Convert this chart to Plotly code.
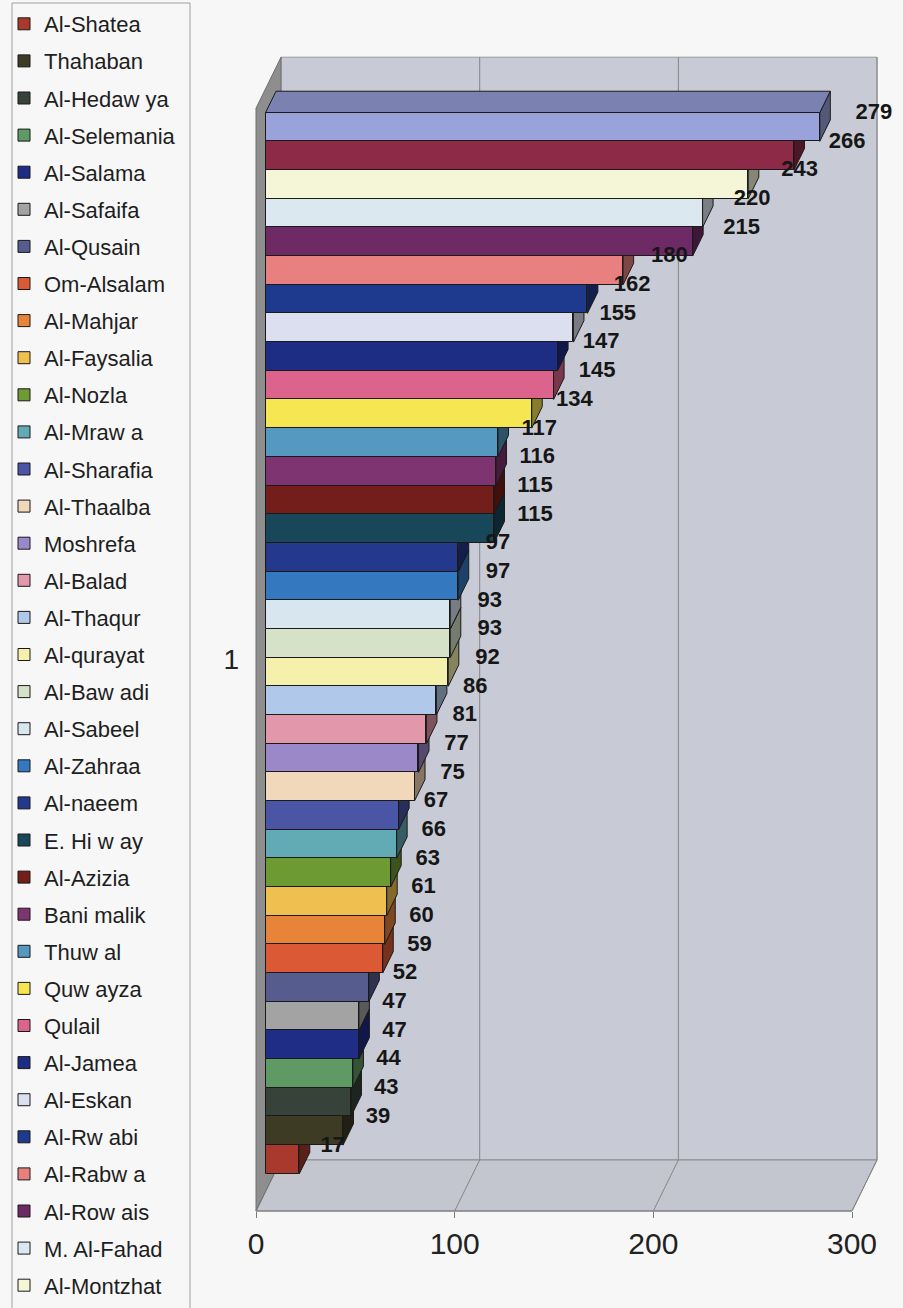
import plotly.graph_objects as go

# Counts per district, listed from the bottom bar to the top bar
VALUES = [17, 39, 43, 44, 47, 47, 52, 59, 60, 61, 63, 66, 67, 75, 77, 81, 86,
          92, 93, 93, 97, 97, 115, 115, 116, 117, 134, 145, 147, 155, 162, 180,
          215, 220, 243, 266, 279]

# Legend names in the same order; the last two rows fall below the page edge
DISTRICTS = ["Al-Shatea", "Thahaban", "Al-Hedaw ya", "Al-Selemania", "Al-Salama",
             "Al-Safaifa", "Al-Qusain", "Om-Alsalam", "Al-Mahjar", "Al-Faysalia",
             "Al-Nozla", "Al-Mraw a", "Al-Sharafia", "Al-Thaalba", "Moshrefa",
             "Al-Balad", "Al-Thaqur", "Al-qurayat", "Al-Baw adi", "Al-Sabeel",
             "Al-Zahraa", "Al-naeem", "E. Hi w ay", "Al-Azizia", "Bani malik",
             "Thuw al", "Quw ayza", "Qulail", "Al-Jamea", "Al-Eskan",
             "Al-Rw abi", "Al-Rabw a", "Al-Row ais", "M. Al-Fahad", "Al-Montzhat"]

BAR_COLORS = ["#a8392c", "#3d3b24", "#37423a", "#5f9a64", "#1f2d86", "#a3a3a3",
              "#565c8e", "#db5a35", "#e8843a", "#efc04f", "#6e9a34", "#62aab4",
              "#4a55a6", "#f2d8bb", "#9a88c8", "#e397aa", "#b0c8ea", "#f5f0ab",
              "#d6e2c8", "#d8e6ef", "#3478c0", "#24388c", "#18475a", "#731e1a",
              "#7d3470", "#5598c0", "#f5e652", "#dc648c", "#1e2d84", "#dcdff0",
              "#1e3a8e", "#e88080", "#6e2a64", "#dce8f0", "#f5f5d8", "#8c2a48",
              "#9aa2dc"]

CATEGORY_LABELS = ["1"]
VALUE_TICKS = [0, 100, 200, 300]

# ---- 3-D box geometry: x in value units, y in bar-height units ----
X_MAX = 300
DEPTH_X = 12.6          # how far the back plane shifts right (value units)
DEPTH_Y = 1.78          # how far the back plane shifts up (bar units)
BAR_Z0, BAR_Z1 = 0.38, 0.80   # front / back depth of the bars inside the box
CAT_LO, CAT_HI = 0.0, 38.45   # category extent on the front plane
BAR_START = 0.62              # gap below the lowest bar

# ---- page layout in pixels ----
W, H = 903, 1308
PLOT_LEFT = 240
ZERO_PX = 256
PX_PER_VAL = (852 - 256) / 300
FLOOR_PX = 1211
PX_PER_CAT = 28.68

x_lo = -(ZERO_PX - PLOT_LEFT) / PX_PER_VAL
x_hi = x_lo + (W - PLOT_LEFT) / PX_PER_VAL
y_lo = CAT_LO - (H - FLOOR_PX) / PX_PER_CAT
y_hi = CAT_LO + FLOOR_PX / PX_PER_CAT

PAGE = "#f7f7f7"
WALL = "#c8cbd5"
FLOOR = "#c3c6cf"
SIDE_WALL = "#8e8e8e"
GRID = "#858585"
EDGE = "#1a1a1a"
FONT = "Liberation Sans, Arial, sans-serif"


def shade(hex_color, f):
    r, g, b = (int(hex_color[k:k + 2], 16) for k in (1, 3, 5))
    return "#{:02x}{:02x}{:02x}".format(*(max(0, min(255, int(c * f))) for c in (r, g, b)))


def poly(points, close=True):
    return "M " + " L ".join(f"{x:.4f},{y:.4f}" for x, y in points) + (" Z" if close else "")


def depth(x, y, z):
    return (x + z * DEPTH_X, y + z * DEPTH_Y)


def paper_xy(px, py):
    return ((px - PLOT_LEFT) / (W - PLOT_LEFT), (H - py) / H)


shapes = []
# legend frame (open at the bottom, it runs past the page)
shapes.append(dict(type="path", layer="below", xref="paper", yref="paper",
                   path=poly([paper_xy(12, H + 20), paper_xy(12, 3),
                              paper_xy(190, 3), paper_xy(190, H + 20)], close=False),
                   line=dict(color="#a0a0a0", width=1)))
# back wall, floor and left wall of the box
shapes.append(dict(type="path", layer="below", xref="x", yref="y",
                   path=poly([depth(0, CAT_LO, 1), depth(X_MAX, CAT_LO, 1),
                              depth(X_MAX, CAT_HI, 1), depth(0, CAT_HI, 1)]),
                   fillcolor=WALL, line=dict(color="#9a9a9a", width=1)))
shapes.append(dict(type="path", layer="below", xref="x", yref="y",
                   path=poly([depth(0, CAT_LO, 0), depth(X_MAX, CAT_LO, 0),
                              depth(X_MAX, CAT_LO, 1), depth(0, CAT_LO, 1)]),
                   fillcolor=FLOOR, line=dict(color="#8a8a8a", width=1)))
shapes.append(dict(type="path", layer="below", xref="x", yref="y",
                   path=poly([depth(0, CAT_LO, 0), depth(0, CAT_LO, 1),
                              depth(0, CAT_HI, 1), depth(0, CAT_HI, 0)]),
                   fillcolor=SIDE_WALL, line=dict(color="#6e6e6e", width=1)))
# value gridlines across the floor and up the back wall
for v in VALUE_TICKS[1:]:
    fx0, fy0 = depth(v, CAT_LO, 0)
    fx1, fy1 = depth(v, CAT_LO, 1)
    wx1, wy1 = depth(v, CAT_HI, 1)
    shapes.append(dict(type="line", layer="below", xref="x", yref="y",
                       x0=fx0, y0=fy0, x1=fx1, y1=fy1, line=dict(color=GRID, width=1)))
    shapes.append(dict(type="line", layer="below", xref="x", yref="y",
                       x0=fx1, y0=fy1, x1=wx1, y1=wy1, line=dict(color=GRID, width=1)))
# front edge of the floor (value axis line)
shapes.append(dict(type="line", layer="below", xref="x", yref="y",
                   x0=0, y0=CAT_LO, x1=X_MAX, y1=CAT_LO, line=dict(color="#7a7a7a", width=1.2)))

fig = go.Figure()
label_x, label_y = [], []
for i, v in enumerate(VALUES):
    c0 = CAT_LO + BAR_START + i
    c1 = c0 + 1
    col = BAR_COLORS[i]
    # right-hand end face and top face of the block
    shapes.append(dict(type="path", layer="below", xref="x", yref="y",
                       path=poly([depth(v, c0, BAR_Z0), depth(v, c0, BAR_Z1),
                                  depth(v, c1, BAR_Z1), depth(v, c1, BAR_Z0)]),
                       fillcolor=shade(col, 0.55), line=dict(color=EDGE, width=1)))
    shapes.append(dict(type="path", layer="below", xref="x", yref="y",
                       path=poly([depth(0, c1, BAR_Z0), depth(v, c1, BAR_Z0),
                                  depth(v, c1, BAR_Z1), depth(0, c1, BAR_Z1)]),
                       fillcolor=shade(col, 0.8), line=dict(color=EDGE, width=1)))
    fx, fy = depth(0, (c0 + c1) / 2, BAR_Z0)
    fig.add_trace(go.Bar(
        orientation="h", x=[v], y=[fy], base=[fx], width=1,
        name=DISTRICTS[i] if i < len(DISTRICTS) else "",
        legendgroup=f"g{i}",
        marker=dict(color=col, line=dict(color=EDGE, width=1)),
    ))
    label_x.append(fx + v * 1.04 + 16.1)
    label_y.append(fy + 0.47)

fig.add_trace(go.Scatter(
    x=label_x, y=label_y, mode="text", showlegend=False,
    text=[f"<b>{v}</b>" for v in VALUES], textposition="middle center",
    textfont=dict(family=FONT, size=22, color="#161616"),
))

fig.update_layout(
    width=W, height=H,
    margin=dict(l=PLOT_LEFT, r=0, t=0, b=0, autoexpand=False),
    paper_bgcolor=PAGE, plot_bgcolor="rgba(0,0,0,0)",
    barmode="overlay", bargap=0, hovermode=False,
    shapes=shapes,
    font=dict(family=FONT, color="#1e1e1e"),
    xaxis=dict(range=[x_lo, x_hi], anchor="free",
               position=(CAT_LO - y_lo) / (y_hi - y_lo),
               tickvals=VALUE_TICKS, ticks="outside", ticklen=6, tickcolor="#7a7a7a",
               tickfont=dict(size=30, family=FONT, color="#222"),
               showgrid=False, zeroline=False, showline=False),
    yaxis=dict(range=[y_lo, y_hi],
               tickvals=[(CAT_LO + CAT_HI) / 2], ticktext=CATEGORY_LABELS,
               ticks="", tickfont=dict(size=28, family=FONT, color="#222"),
               showgrid=False, zeroline=False, showline=False),
    legend=dict(xref="container", yref="container", x=4 / W, y=1 - 3 / H,
                xanchor="left", yanchor="top", traceorder="grouped",
                tracegroupgap=5.5, maxheight=3000,
                bgcolor="rgba(0,0,0,0)", borderwidth=0,
                font=dict(size=22, family=FONT, color="#1e1e1e")),
)

fig.write_html("out.html")
